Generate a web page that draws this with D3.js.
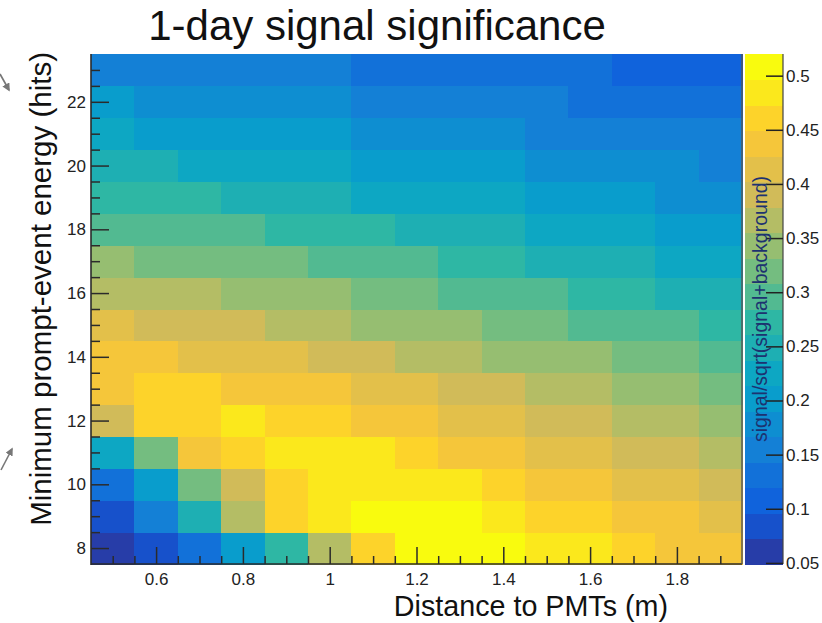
<!DOCTYPE html>
<html><head><meta charset="utf-8">
<script src="https://cdn.jsdelivr.net/npm/d3@7"></script>
<style>
body{margin:0;background:#fff;}
svg{display:block;font-family:"Liberation Sans",Arial,Helvetica,sans-serif;}
</style>
</head><body>
<svg id="chart" width="822" height="623"></svg>
<script>
// ---- data ----
const xCenters = [0.5,0.6,0.7,0.8,0.9,1.0,1.1,1.2,1.3,1.4,1.5,1.6,1.7,1.8,1.9];
const yCenters = [8,9,10,11,12,13,14,15,16,17,18,19,20,21,22,23];
// signal/sqrt(signal+background) per row (minimum prompt-event energy), columns = distance bins
const e8  = [0.049,0.082,0.128,0.200,0.270,0.368,0.466,0.510,0.520,0.512,0.490,0.482,0.462,0.444,0.436];
const e9  = [0.085,0.156,0.250,0.365,0.460,0.485,0.506,0.514,0.508,0.490,0.465,0.457,0.442,0.434,0.418];
const e10 = [0.128,0.204,0.318,0.392,0.462,0.480,0.488,0.490,0.484,0.468,0.446,0.436,0.420,0.410,0.394];
const e11 = [0.225,0.320,0.440,0.462,0.482,0.486,0.480,0.466,0.448,0.438,0.423,0.413,0.399,0.388,0.370];
const e12 = [0.390,0.462,0.468,0.478,0.466,0.458,0.444,0.436,0.421,0.412,0.398,0.388,0.372,0.362,0.346];
const e13 = [0.445,0.458,0.455,0.446,0.440,0.432,0.420,0.412,0.398,0.388,0.374,0.364,0.350,0.340,0.322];
const e14 = [0.440,0.433,0.422,0.417,0.410,0.397,0.390,0.374,0.364,0.352,0.345,0.338,0.326,0.316,0.302];
const e15 = [0.410,0.398,0.394,0.388,0.374,0.364,0.352,0.344,0.337,0.325,0.316,0.305,0.298,0.290,0.276];
const e16 = [0.372,0.366,0.360,0.352,0.345,0.338,0.326,0.316,0.306,0.299,0.290,0.280,0.270,0.256,0.246];
const e17 = [0.338,0.328,0.323,0.318,0.312,0.304,0.298,0.290,0.280,0.270,0.258,0.250,0.242,0.232,0.222];
const e18 = [0.305,0.300,0.295,0.289,0.281,0.275,0.267,0.258,0.252,0.244,0.234,0.228,0.220,0.210,0.200];
const e19 = [0.278,0.272,0.265,0.258,0.252,0.245,0.235,0.229,0.223,0.217,0.210,0.203,0.195,0.188,0.180];
const e20 = [0.245,0.240,0.234,0.230,0.225,0.220,0.212,0.206,0.200,0.194,0.187,0.182,0.177,0.171,0.164];
const e21 = [0.218,0.210,0.207,0.204,0.200,0.196,0.188,0.184,0.179,0.172,0.165,0.160,0.155,0.150,0.146];
const e22 = [0.196,0.186,0.183,0.180,0.177,0.172,0.164,0.161,0.157,0.153,0.148,0.140,0.135,0.130,0.124];
const e23 = [0.158,0.156,0.155,0.153,0.151,0.149,0.140,0.137,0.134,0.131,0.128,0.125,0.117,0.112,0.108];
const rows = [e8,e9,e10,e11,e12,e13,e14,e15,e16,e17,e18,e19,e20,e21,e22,e23];

const xTicks = [0.6,0.8,1,1.2,1.4,1.6,1.8];
const xMinor = [0.5,0.55,0.65,0.7,0.75,0.85,0.9,0.95,1.05,1.1,1.15,1.25,1.3,1.35,1.45,1.5,1.55,1.65,1.7,1.75,1.85,1.9];
const yTicks = [8,10,12,14,16,18,20,22];
const yMinor = [8.5,9,9.5,10.5,11,11.5,12.5,13,13.5,14.5,15,15.5,16.5,17,17.5,18.5,19,19.5,20.5,21,21.5,22.5,23];
const zTicks = [0.05,0.1,0.15,0.2,0.25,0.3,0.35,0.4,0.45,0.5];
const zTickLabels = ["0.05","0.1","0.15","0.2","0.25","0.3","0.35","0.4","0.45","0.5"];
const nContours = 20;

// ROOT kBird palette stops
const birdStops = [0.0000,0.1250,0.2500,0.3750,0.5000,0.6250,0.7500,0.8750,1.0000];
const birdR = [0.2082,0.0592,0.0780,0.0232,0.1802,0.5301,0.8186,0.9956,0.9764];
const birdG = [0.1664,0.3599,0.5041,0.6419,0.7178,0.7492,0.7328,0.7862,0.9832];
const birdB = [0.5293,0.8684,0.8385,0.7914,0.6425,0.4662,0.3499,0.1968,0.0539];

const titleText = "1-day signal significance";
const xTitle = "Distance to PMTs (m)";
const yTitle = "Minimum prompt-event energy (hits)";
const zTitle = "signal/sqrt(signal+background)";

// ---- drawing ----
const svg = d3.select("#chart");
const L = 91, R = 742, T = 54, B = 564;
const xs = d3.scaleLinear().domain([0.45,1.95]).range([L,R]);
const ys = d3.scaleLinear().domain([7.5,23.5]).range([B,T]);

const allVals = rows.flat();
const zmin = d3.min(allVals), zmax = d3.max(allVals);
const zs = d3.scaleLinear().domain([zmin,zmax]).range([B,T]);

const rS = d3.scaleLinear().domain(birdStops).range(birdR);
const gS = d3.scaleLinear().domain(birdStops).range(birdG);
const bS = d3.scaleLinear().domain(birdStops).range(birdB);
function levelColor(lev){
  const idx = Math.floor((lev+0.99)*255/nContours);
  const f = Math.min(1, idx/254);
  return d3.rgb(rS(f)*255, gS(f)*255, bS(f)*255).toString();
}
function levelOf(v){
  return Math.max(0, Math.min(nContours-1, Math.floor((v-zmin)/(zmax-zmin)*nContours)));
}

const cells = [];
rows.forEach((row,ri)=>row.forEach((v,ci)=>cells.push({x:xCenters[ci], y:yCenters[ri], v})));
svg.append("g").selectAll("rect").data(cells).join("rect")
  .attr("x", d=>xs(d.x-0.05))
  .attr("width", d=>xs(d.x+0.05)-xs(d.x-0.05)+0.5)
  .attr("y", d=>ys(d.y+0.5))
  .attr("height", d=>ys(d.y-0.5)-ys(d.y+0.5)+0.5)
  .attr("fill", d=>levelColor(levelOf(d.v)))
  .attr("shape-rendering","crispEdges");

// frame lines
const axCol = "#2b2b2b";
svg.append("line").attr("x1",L).attr("x2",L).attr("y1",T).attr("y2",B+1).attr("stroke",axCol).attr("stroke-width",1.6);
svg.append("line").attr("x1",L).attr("x2",R).attr("y1",B).attr("y2",B).attr("stroke",axCol).attr("stroke-width",1.6);
svg.append("line").attr("x1",R).attr("x2",R).attr("y1",T).attr("y2",B).attr("stroke","#555").attr("stroke-width",1.4);

// x axis
const gx = svg.append("g").attr("transform",`translate(0,${B})`)
  .call(d3.axisBottom(xs).tickValues(xTicks).tickSize(-17).tickPadding(9).tickFormat(d=>String(d)));
const gxm = svg.append("g").attr("transform",`translate(0,${B})`)
  .call(d3.axisBottom(xs).tickValues(xMinor).tickSize(-8).tickFormat(""));
// y axis
const gy = svg.append("g").attr("transform",`translate(${L},0)`)
  .call(d3.axisLeft(ys).tickValues(yTicks).tickSize(-18).tickPadding(5).tickFormat(d=>String(d)));
const gym = svg.append("g").attr("transform",`translate(${L},0)`)
  .call(d3.axisLeft(ys).tickValues(yMinor).tickSize(-9).tickFormat(""));
[gx,gxm,gy,gym].forEach(g=>{
  g.select(".domain").remove();
  g.selectAll(".tick line").attr("stroke",axCol).attr("stroke-width",1.5);
  g.selectAll(".tick text").attr("fill","#222").style("font-size","17px").style("font-family",'"Liberation Sans",Arial,sans-serif');
});

// colour bar
const cbL = 745, cbR = 783;
const dz = (zmax-zmin)/nContours;
const bands = d3.range(nContours);
svg.append("g").selectAll("rect").data(bands).join("rect")
  .attr("x",cbL).attr("width",cbR-cbL)
  .attr("y",i=>zs(zmin+(i+1)*dz))
  .attr("height",i=>zs(zmin+i*dz)-zs(zmin+(i+1)*dz)+0.5)
  .attr("fill",i=>levelColor(i))
  .attr("shape-rendering","crispEdges");
svg.append("line").attr("x1",cbR).attr("x2",cbR).attr("y1",T).attr("y2",B).attr("stroke","#444").attr("stroke-width",1.2);
const gz = svg.append("g").attr("transform",`translate(${cbR},0)`)
  .call(d3.axisRight(zs).tickValues(zTicks).tickSize(-17).tickPadding(3).tickFormat((d,i)=>zTickLabels[i]));
gz.select(".domain").remove();
gz.selectAll(".tick line").attr("stroke","#222").attr("stroke-width",1.5);
gz.selectAll(".tick text").attr("fill","#222").style("font-size","17px").style("font-family",'"Liberation Sans",Arial,sans-serif');

// colour-bar title
svg.append("text").attr("transform",`translate(767,${(173+445)/2}) rotate(-90)`)
  .attr("text-anchor","middle").attr("fill","#1d3270").style("font-size","19.5px").text(zTitle);

// titles
svg.append("text").attr("x",377).attr("y",40).attr("text-anchor","middle")
  .attr("fill","#111").style("font-size","42px").text(titleText);
svg.append("text").attr("x",668).attr("y",616).attr("text-anchor","end")
  .attr("fill","#111").style("font-size","28.7px").text(xTitle);
svg.append("text").attr("transform",`translate(51,${T-2}) rotate(-90)`).attr("text-anchor","end")
  .attr("fill","#111").style("font-size","29.5px").text(yTitle);

// small grey arrows at the left border (artefacts of the source slide)
const defs = svg.append("defs");
defs.append("marker").attr("id","ah").attr("viewBox","0 0 10 10").attr("refX",8).attr("refY",5)
  .attr("markerWidth",5).attr("markerHeight",5).attr("orient","auto")
  .append("path").attr("d","M0,0 L10,5 L0,10 z").attr("fill","#777");
svg.append("line").attr("x1",0).attr("y1",74).attr("x2",9).attr("y2",90)
  .attr("stroke","#777").attr("stroke-width",1.6).attr("marker-end","url(#ah)");
svg.append("line").attr("x1",1).attr("y1",470).attr("x2",12).attr("y2",449)
  .attr("stroke","#777").attr("stroke-width",1.6).attr("marker-end","url(#ah)");
</script>
</body></html>
